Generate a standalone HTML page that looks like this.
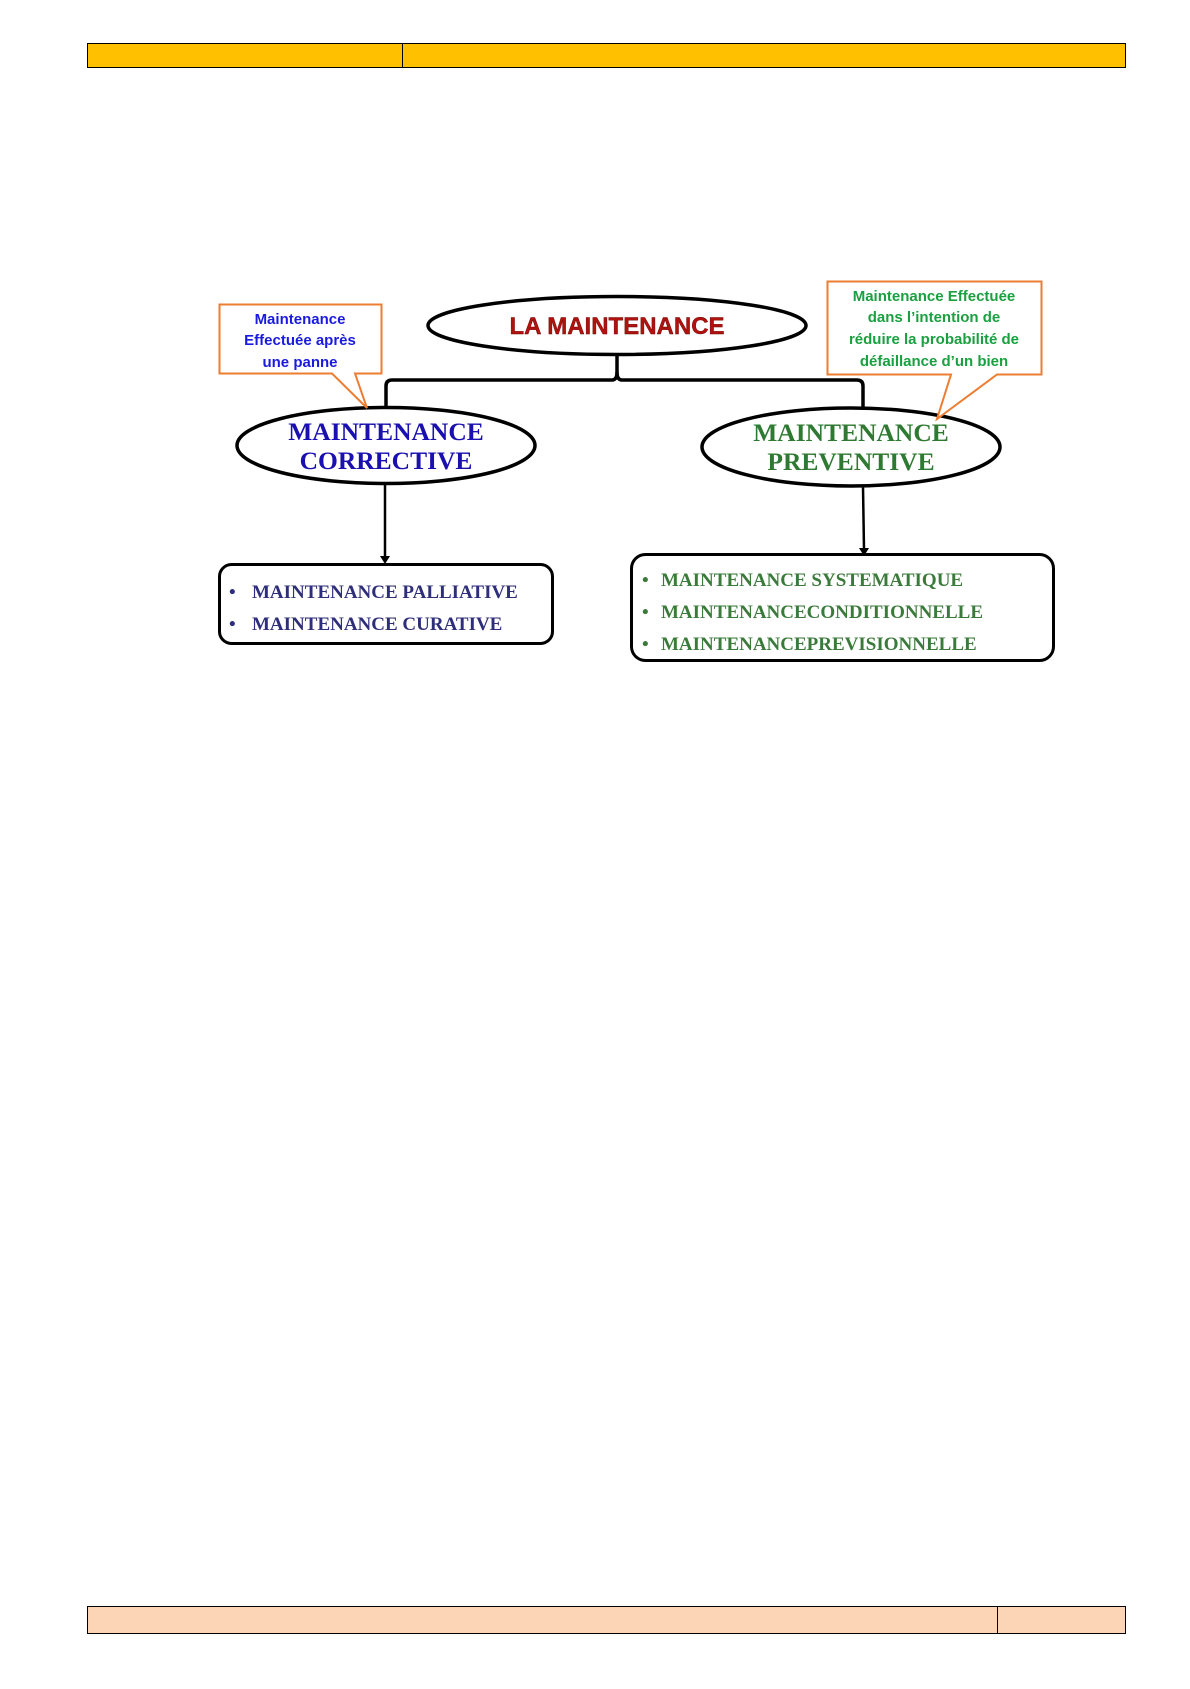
<!DOCTYPE html>
<html><head><meta charset="utf-8"><style>
body{margin:0;background:#fff}
svg text{font-weight:bold}
</style></head><body>
<svg width="1190" height="1684" xmlns="http://www.w3.org/2000/svg">
<rect x="87.5" y="43.5" width="1038" height="24" fill="#ffc000" stroke="#000"/>
<line x1="402.5" y1="43" x2="402.5" y2="68" stroke="#000"/>
<rect x="87.5" y="1606.5" width="1038" height="27" fill="#fbd5b5" stroke="#000"/>
<line x1="997.5" y1="1606" x2="997.5" y2="1634" stroke="#000"/>
<path d="M386 408 V386 Q386 380 392 380 H612 Q617 380 617 372 Q617 380 622 380 H857 Q863 380 863 386 V408" fill="none" stroke="#000" stroke-width="3.5"/>
<line x1="617" y1="356" x2="617" y2="374" stroke="#000" stroke-width="3.5"/>
<line x1="385" y1="484" x2="385" y2="557" stroke="#000" stroke-width="2.5"/>
<polygon points="380,556 390,556 385,564" fill="#000"/>
<line x1="863" y1="487" x2="864" y2="549" stroke="#000" stroke-width="2.5"/>
<polygon points="859,548 869,548 864,556" fill="#000"/>
<ellipse cx="617" cy="325.5" rx="189" ry="29" fill="#fff" stroke="#000" stroke-width="3.5"/>
<ellipse cx="386" cy="445.5" rx="149" ry="38" fill="#fff" stroke="#000" stroke-width="3.5"/>
<ellipse cx="851" cy="447" rx="149" ry="39" fill="#fff" stroke="#000" stroke-width="3.5"/>
<text x="617" y="334" text-anchor="middle" font-family="Liberation Sans,sans-serif" font-size="24" fill="#b0120e" stroke="#6a0000" stroke-width="0.4">LA MAINTENANCE</text>
<g font-family="Liberation Serif,serif" font-size="25.5" text-anchor="middle">
<text x="386" y="440" fill="#1a10b0">MAINTENANCE</text>
<text x="386" y="469" fill="#1a10b0">CORRECTIVE</text>
<text x="851" y="441" fill="#2f7a32">MAINTENANCE</text>
<text x="851" y="470" fill="#2f7a32">PREVENTIVE</text>
</g>
<path d="M219.5 304.5 H381.5 V373.5 H355 L367 408 L332 373.5 H219.5 Z" fill="#fff" stroke="#ed7d31" stroke-width="2"/>
<g font-family="Liberation Sans,sans-serif" font-size="15" text-anchor="middle" fill="#1a1ae0">
<text x="300" y="324">Maintenance</text>
<text x="300" y="345">Effectuée après</text>
<text x="300" y="367">une panne</text>
</g>
<path d="M827.5 281.5 H1041.5 V374.5 H997 L937 419 L951 374.5 H827.5 Z" fill="#fff" stroke="#ed7d31" stroke-width="2"/>
<g font-family="Liberation Sans,sans-serif" font-size="15" text-anchor="middle" fill="#1aa040">
<text x="934" y="301">Maintenance Effectuée</text>
<text x="934" y="322">dans l’intention de</text>
<text x="934" y="344">réduire la probabilité de</text>
<text x="934" y="366">défaillance d’un bien</text>
</g>
<rect x="219.5" y="564.5" width="333" height="79" rx="12" fill="#fff" stroke="#000" stroke-width="3"/>
<rect x="631.5" y="554.5" width="422" height="106" rx="14" fill="#fff" stroke="#000" stroke-width="3"/>
<g font-family="Liberation Serif,serif" font-size="19" fill="#2e2e7a">
<text x="229" y="598">•</text><text x="252" y="598">MAINTENANCE PALLIATIVE</text>
<text x="229" y="630">•</text><text x="252" y="630">MAINTENANCE CURATIVE</text>
</g>
<g font-family="Liberation Serif,serif" font-size="19" fill="#3a7a3a">
<text x="642" y="586">•</text><text x="661" y="586">MAINTENANCE SYSTEMATIQUE</text>
<text x="642" y="618">•</text><text x="661" y="618">MAINTENANCECONDITIONNELLE</text>
<text x="642" y="650">•</text><text x="661" y="650">MAINTENANCEPREVISIONNELLE</text>
</g>
</svg>
</body></html>
